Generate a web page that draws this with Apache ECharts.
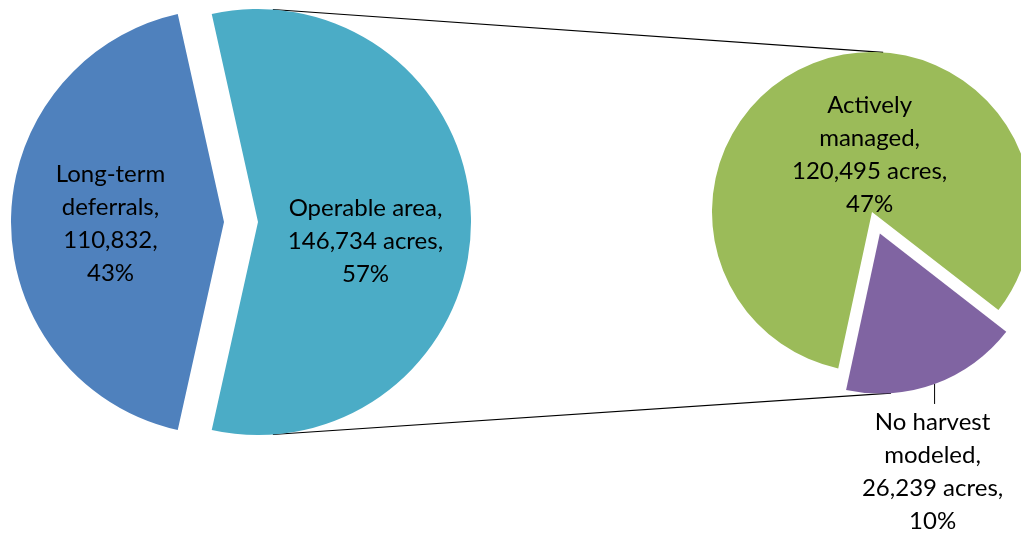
<!DOCTYPE html>
<html>
<head>
<meta charset="utf-8">
<title>Land base breakdown</title>
<script src="https://cdn.jsdelivr.net/npm/echarts@6/dist/echarts.min.js"></script>
<style>
  html, body { margin: 0; padding: 0; background: #fff; }
  #chart { width: 1021px; height: 533px; }
</style>
</head>
<body>
<div id="chart"></div>
<script>
// Whole land base: operable area vs. long-term deferrals (acres)
const overviewNames = ['Operable area', 'Long-term deferrals'];
const overviewLabelNames = ['Operable area', 'Long-term\ndeferrals'];
const overviewUnits = [' acres', ''];
const overviewValues = [146734, 110832];

// Breakdown of the operable area (acres)
const operableNames = ['No harvest modeled', 'Actively managed'];
const operableLabelNames = ['No harvest\nmodeled', 'Actively\nmanaged'];
const operableUnits = [' acres', ' acres'];
const operableValues = [26239, 120495];

const overviewColors = ['#4BACC6', '#4F81BD'];
const operableColors = ['#8064A2', '#9BBB59'];

const totalAcres = overviewValues.reduce((a, b) => a + b, 0);
const operableAcres = operableValues.reduce((a, b) => a + b, 0);

// Pie geometry (pixels); the first slice of each pie is pulled out by `explode`
const LEFT = { cx: 224, cy: 222, r: 213, explode: 34, mid: 0 };
const RIGHT = { cx: 872, cy: 212, r: 160, explode: 23, mid: -70 };

const FONT = 'Lato, "Liberation Sans", sans-serif';
const rad = Math.PI / 180;

function fmt(n) { return n.toLocaleString('en-US'); }
function pct(n) { return Math.round(n / totalAcres * 100) + '%'; }

function labelText(names, units) {
  return function (p) {
    const i = p.dataIndex;
    return names[i] + ',\n' + fmt(p.value) + units[i] + ',\n' + pct(p.value);
  };
}

// Start angles so that the first slice of each pie is centred on `mid`
const leftStart = LEFT.mid + overviewValues[0] / totalAcres * 180;
const rightStart = RIGHT.mid + operableValues[0] / operableAcres * 180;

function offsetCenter(p) {
  return [p.cx + p.explode * Math.cos(p.mid * rad), p.cy - p.explode * Math.sin(p.mid * rad)];
}
const opCenter = offsetCenter(LEFT);
const smallCenter = offsetCenter(RIGHT);

// Nudges for the inside labels (dx, dy)
const leftLabelShift = [[-2, 19], [-4, 2]];
const rightLabelShift = [[0, 0], [26, 21]];

function shiftedCenter(p, shift) {
  const r = p.labelRect;
  const s = shift || [0, 0];
  return {
    x: r.x + r.width / 2 + s[0],
    y: r.y + r.height / 2 + s[1],
    align: 'center',
    verticalAlign: 'middle'
  };
}

const labelStyle = {
  color: '#000',
  fontFamily: FONT,
  fontSize: 24,
  lineHeight: 33,
  align: 'center'
};

// Series-line endpoints: points on each pie's rim just right of the top/bottom
const LINE_ANGLE = 86;
function rim(cx, cy, r, deg) {
  return [cx + r * Math.cos(deg * rad), cy - r * Math.sin(deg * rad)];
}
const topA = rim(opCenter[0], opCenter[1], LEFT.r, LINE_ANGLE);
const topB = rim(RIGHT.cx, RIGHT.cy, RIGHT.r, LINE_ANGLE);
const botA = rim(opCenter[0], opCenter[1], LEFT.r, -LINE_ANGLE);
const botB = rim(smallCenter[0], smallCenter[1], RIGHT.r, -LINE_ANGLE);
// Leader from the rim of the small slice straight down to its label
const leaderTop = rim(smallCenter[0], smallCenter[1], RIGHT.r, RIGHT.mid);
const LEADER_LEN = 20;

// One pie layer shows only the slices listed in `visible`; the others are
// kept (transparent) so that every layer shares the same angles.
function pieLayer(geom, center, start, names, labelNames, units, values, colors, visible, layout) {
  return {
    type: 'pie',
    silent: true,
    center: center,
    radius: [0, geom.r],
    startAngle: start,
    clockwise: true,
    avoidLabelOverlap: false,
    emphasis: { disabled: true, scale: false },
    label: Object.assign({ show: true, position: 'inside', formatter: labelText(labelNames, units) }, labelStyle),
    labelLine: { show: false },
    labelLayout: layout,
    itemStyle: { borderWidth: 0 },
    data: names.map((n, i) => ({
      name: n,
      value: values[i],
      itemStyle: { color: visible.includes(i) ? colors[i] : 'rgba(0,0,0,0)' },
      label: { show: visible.includes(i) }
    }))
  };
}

const chart = echarts.init(document.getElementById('chart'), null, { renderer: 'canvas' });

chart.setOption({
  animation: false,
  backgroundColor: '#fff',
  graphic: [
    { type: 'line', z: 0, shape: { x1: topA[0], y1: topA[1], x2: topB[0], y2: topB[1] },
      style: { stroke: '#000', lineWidth: 1.2 } },
    { type: 'line', z: 0, shape: { x1: botA[0], y1: botA[1], x2: botB[0], y2: botB[1] },
      style: { stroke: '#000', lineWidth: 1.2 } },
    { type: 'line', z: 0, shape: { x1: leaderTop[0], y1: leaderTop[1], x2: leaderTop[0], y2: leaderTop[1] + LEADER_LEN },
      style: { stroke: '#000', lineWidth: 1 } }
  ],
  series: [
    // Long-term deferrals
    pieLayer(LEFT, [LEFT.cx, LEFT.cy], leftStart, overviewNames, overviewLabelNames, overviewUnits,
      overviewValues, overviewColors, [1], p => shiftedCenter(p, leftLabelShift[p.dataIndex])),
    // Operable area, pulled out to the right
    pieLayer(LEFT, opCenter, leftStart, overviewNames, overviewLabelNames, overviewUnits,
      overviewValues, overviewColors, [0], p => shiftedCenter(p, leftLabelShift[p.dataIndex])),
    // Actively managed
    pieLayer(RIGHT, [RIGHT.cx, RIGHT.cy], rightStart, operableNames, operableLabelNames, operableUnits,
      operableValues, operableColors, [1], p => shiftedCenter(p, rightLabelShift[p.dataIndex])),
    // No harvest modeled, pulled out; its label sits below the leader line
    pieLayer(RIGHT, smallCenter, rightStart, operableNames, operableLabelNames, operableUnits,
      operableValues, operableColors, [0], () => ({
        x: leaderTop[0] - 2,
        y: leaderTop[1] + LEADER_LEN + 2,
        align: 'center',
        verticalAlign: 'top'
      }))
  ]
});
</script>
</body>
</html>
